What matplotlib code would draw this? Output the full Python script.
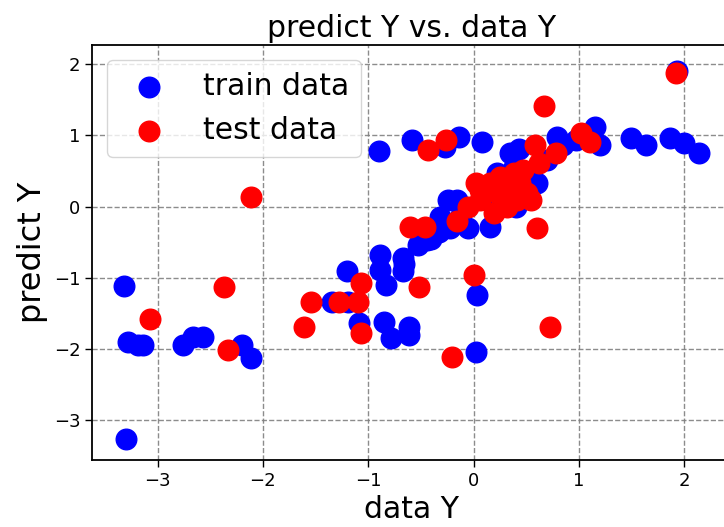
import matplotlib
matplotlib.use("Agg")
import matplotlib.pyplot as plt

train_x = [-3.30, -3.32, -3.28, -3.19, -3.14, -2.76, -2.66, -2.57, -2.20, -2.11,
           -1.34, -1.19, -1.20, -1.09, -0.89, -0.89, -0.83, -0.85, -0.78, -0.66,
           -0.67, -0.61, -0.61, -0.53, -0.40, 0.03, 0.02, -0.90, -0.58, -0.27,
           -0.14, 0.08, 0.43, 1.15, 1.08, 1.20, 0.97, 0.85, 1.50, 1.64,
           1.87, 2.00, 2.14, 0.79, 0.70, 0.60, 0.38, 0.22, 0.06, -0.16,
           -0.32, -0.13, -0.05, 0.16, -0.33, -0.44, -0.67, 0.10, 0.25, 0.30,
           0.45, 0.50, 0.20, 0.40, 1.93, -0.24, 0.41, 0.35, -0.22]
train_y = [-3.26, -1.12, -1.90, -1.95, -1.95, -1.95, -1.83, -1.83, -1.95, -2.12,
           -1.34, -1.34, -0.90, -1.64, -0.68, -0.89, -1.10, -1.62, -1.85, -0.80,
           -0.91, -1.69, -1.80, -0.54, -0.45, -1.24, -2.04, 0.78, 0.94, 0.84,
           0.98, 0.91, 0.81, 1.12, 0.98, 0.86, 0.94, 0.86, 0.96, 0.87,
           0.96, 0.89, 0.75, 0.98, 0.66, 0.33, 0.56, 0.47, 0.28, 0.09,
           -0.14, -0.14, -0.30, -0.28, -0.35, -0.47, -0.72, 0.10, 0.20, 0.40,
           0.30, 0.45, -0.05, 0.00, 1.90, 0.09, 0.05, 0.75, -0.30]

test_x = [-3.07, -2.37, -2.33, -1.61, -1.54, -1.28, -1.10, -1.07, -1.07, -0.52,
          -0.20, 0.00, 0.73, 0.60, -0.60, -0.46, -2.11, -0.43, -0.26, 0.67,
          1.92, 1.02, 1.11, 0.58, 0.78, 0.55, 0.62, -0.05, -0.16, 0.06,
          0.16, 0.25, 0.38, 0.47, 0.19, 0.32, 0.41, 0.06, 0.51, 0.02,
          0.22, 0.35, 0.44]
test_y = [-1.58, -1.13, -2.02, -1.69, -1.34, -1.34, -1.34, -1.08, -1.78, -1.13,
          -2.11, -0.96, -1.69, -0.30, -0.29, -0.29, 0.14, 0.80, 0.94, 1.42,
          1.88, 1.03, 0.91, 0.87, 0.75, 0.09, 0.61, 0.00, -0.20, 0.23,
          0.33, 0.42, 0.47, 0.52, -0.09, 0.00, 0.09, 0.09, 0.19, 0.33,
          0.19, 0.23, 0.33]

fig = plt.figure(figsize=(7.24, 5.27), dpi=100)
ax = fig.add_axes([0.1275, 0.1271, 0.8829, 0.7875])

ax.scatter(train_x, train_y, s=220, c='blue', label='train data', zorder=3)
ax.scatter(test_x, test_y, s=220, c='red', label='test data', zorder=4)

ax.set_xlim(-3.62, 2.45)
ax.set_ylim(-3.56, 2.27)
ax.set_xticks([-3, -2, -1, 0, 1, 2])
ax.set_yticks([-3, -2, -1, 0, 1, 2])
ax.tick_params(labelsize=13, length=5, width=1)
ax.grid(True, linestyle='--', color='gray', linewidth=1, alpha=0.9)
for sp in ax.spines.values():
    sp.set_linewidth(1.3)

ax.set_title('predict Y vs. data Y', fontsize=21.5)
ax.set_xlabel('data Y', fontsize=21.5)
ax.set_ylabel('predict Y', fontsize=23)
ax.legend(loc='upper left', fontsize=21.5)

fig.savefig('out.png', dpi=100)
